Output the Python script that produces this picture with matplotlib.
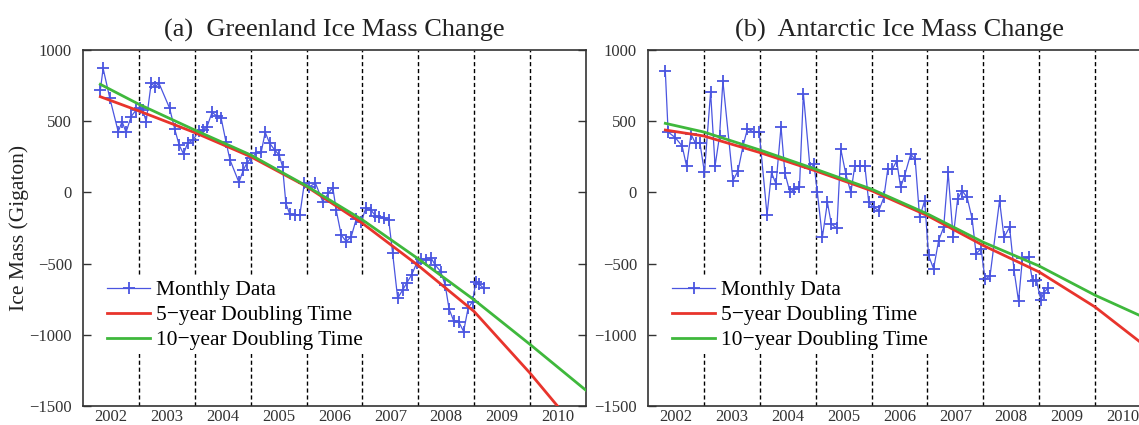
import matplotlib
matplotlib.use("Agg")
import matplotlib.pyplot as plt

# ---------------- data ----------------
years_labels = ["2002", "2003", "2004", "2005", "2006", "2007", "2008", "2009", "2010"]
label_pos = [2002.5, 2003.5, 2004.5, 2005.5, 2006.5, 2007.5, 2008.5, 2009.5, 2010.5]
year_bounds = [2003, 2004, 2005, 2006, 2007, 2008, 2009, 2010]
yticks = [-1500, -1000, -500, 0, 500, 1000]

# Greenland monthly data
gr_t = [2002.31, 2002.36, 2002.48, 2002.63, 2002.70, 2002.77, 2002.86, 2002.95, 2003.02, 2003.07,
        2003.13, 2003.22, 2003.29, 2003.36, 2003.55, 2003.64, 2003.72, 2003.80, 2003.87, 2003.97,
        2004.07, 2004.15, 2004.22, 2004.31, 2004.39, 2004.47, 2004.56, 2004.63, 2004.79, 2004.87,
        2004.93, 2005.01, 2005.10, 2005.19, 2005.26, 2005.34, 2005.43, 2005.51, 2005.57, 2005.63,
        2005.70, 2005.79, 2005.88, 2005.96, 2006.05, 2006.16, 2006.29, 2006.39, 2006.47, 2006.53,
        2006.62, 2006.71, 2006.80, 2006.89, 2006.98, 2007.06, 2007.15, 2007.23, 2007.30, 2007.39,
        2007.47, 2007.54, 2007.63, 2007.72, 2007.79, 2007.88, 2007.97, 2008.05, 2008.13, 2008.23,
        2008.30, 2008.40, 2008.48, 2008.55, 2008.63, 2008.72, 2008.81, 2008.89, 2008.97, 2009.03,
        2009.09, 2009.17]
gr_m = [719, 871, 661, 427, 497, 422, 532, 579, 595, 579,
        497, 766, 743, 766, 591, 446, 333, 270, 345, 368,
        431, 438, 462, 563, 537, 525, 352, 228, 71, 158,
        205, 244, 275, 286, 422, 345, 298, 263, 181, -76,
        -154, -158, -158, 64, 41, 64, -65, -6, 34, -123,
        -299, -345, -310, -186, -205, -111, -123, -163, -175, -182,
        -193, -427, -743, -685, -638, -579, -498, -467, -474, -462,
        -509, -556, -650, -818, -900, -907, -977, -813, -767, -626,
        -645, -673]

# Greenland fitted curves
gr_fit_t = [2002.31, 2003.0, 2004.0, 2005.0, 2006.0, 2007.0, 2008.0, 2009.0, 2010.0, 2011.0]
gr_fit5 = [672, 572, 420, 251, 41, -217, -514, -837, -1270, -1740]
gr_fit10 = [759, 619, 438, 263, 45, -193, -467, -755, -1068, -1390]

# Antarctic monthly data
an_t = [2002.31, 2002.36, 2002.49, 2002.61, 2002.69, 2002.77, 2002.85, 2002.93, 2003.01, 2003.12,
        2003.20, 2003.28, 2003.34, 2003.52, 2003.61, 2003.70, 2003.78, 2003.89, 2003.99, 2004.13,
        2004.21, 2004.29, 2004.38, 2004.45, 2004.54, 2004.62, 2004.71, 2004.78, 2004.90, 2004.97,
        2005.03, 2005.12, 2005.21, 2005.28, 2005.38, 2005.45, 2005.54, 2005.63, 2005.70, 2005.79,
        2005.88, 2005.95, 2006.04, 2006.13, 2006.22, 2006.29, 2006.37, 2006.45, 2006.52, 2006.59,
        2006.70, 2006.78, 2006.86, 2006.95, 2007.02, 2007.11, 2007.20, 2007.29, 2007.37, 2007.46,
        2007.54, 2007.62, 2007.71, 2007.80, 2007.87, 2007.96, 2008.03, 2008.12, 2008.29, 2008.37,
        2008.47, 2008.55, 2008.63, 2008.70, 2008.81, 2008.88, 2008.95, 2009.03, 2009.08, 2009.16]
an_m = [850, 424, 384, 326, 186, 408, 345, 345, 140, 704,
        186, 396, 781, 82, 151, 326, 447, 424, 424, -158,
        140, 58, 461, 135, 0, 23, 35, 694, 168, 198,
        0, -315, -70, -221, -252, 303, 128, 0, 186, 186,
        186, -70, -105, -128, -35, 163, 163, 221, 35, 116,
        268, 233, -175, -58, -443, -536, -338, -245, 140, -315,
        -47, 12, -35, -186, -431, -396, -610, -587, -58, -315,
        -245, -548, -764, -461, -454, -624, -617, -757, -704, -671]

# Antarctic fitted curves
an_fit_t = [2002.31, 2003.0, 2004.0, 2005.0, 2006.0, 2007.0, 2008.0, 2009.0, 2010.0, 2011.0]
an_fit5 = [438, 396, 280, 151, 12, -163, -373, -559, -805, -1110]
an_fit10 = [485, 424, 298, 163, 23, -151, -350, -517, -722, -900]

titles = ["(a)  Greenland Ice Mass Change", "(b)  Antarctic Ice Mass Change"]
legend_labels = ["Monthly Data", "5\u2212year Doubling Time", "10\u2212year Doubling Time"]
ylabel = "Ice Mass (Gigaton)"

# ---------------- style ----------------
SERIF = ["Liberation Serif", "DejaVu Serif"]
plt.rcParams["font.family"] = SERIF

BLUE = "#4a55e0"
RED = "#e8342c"
GREEN = "#3fb83c"
W, H = 1139, 425
fig = plt.figure(figsize=(W / 100, H / 100), dpi=100)

panels = [
    (83, gr_t, gr_m, gr_fit_t, gr_fit5, gr_fit10, titles[0]),
    (648, an_t, an_m, an_fit_t, an_fit5, an_fit10, titles[1]),
]
for i, (left_px, t, m, ft, f5, f10, title) in enumerate(panels):
    ax = fig.add_axes([left_px / W, (H - 406) / H, 503 / W, 356 / H])
    ax.set_xlim(2002, 2011)
    ax.set_ylim(-1500, 1000)
    for yb in year_bounds:
        ax.axvline(yb, color="black", lw=1.0, ls=(0, (3.0, 2.0)), zorder=1)
    l1, = ax.plot(t, m, color=BLUE, lw=0.9, marker="+", ms=9, mew=1.3, zorder=3)
    l2, = ax.plot(ft, f5, color=RED, lw=2.0, zorder=4)
    l3, = ax.plot(ft, f10, color=GREEN, lw=2.0, zorder=5)
    ax.set_xticks(label_pos)
    ax.set_xticklabels(years_labels)
    ax.set_yticks(yticks)
    ax.set_yticklabels([str(v).replace("-", "\u2212") for v in yticks])
    ax.tick_params(axis="x", length=0, pad=2, labelsize=12, colors="#333333")
    ax.tick_params(axis="y", direction="in", length=6, width=1.0, pad=8,
                   labelsize=12, right=True, colors="#333333")
    for sp in ax.spines.values():
        sp.set_linewidth(1.2)
        sp.set_color("#333333")
    ax.set_title(title, fontsize=19, pad=10, color="#222222")
    if i == 0:
        ax.set_ylabel(ylabel, fontsize=15.5, color="#222222")
        ax.yaxis.set_label_coords(-0.108, 0.5)
    leg = ax.legend([l1, l2, l3], legend_labels, loc="lower left",
                    bbox_to_anchor=(0.04, 0.145), fontsize=15.5,
                    frameon=True, fancybox=False, framealpha=1.0,
                    handlelength=2.0, handletextpad=0.25, labelspacing=0.22,
                    borderpad=0.2, borderaxespad=0.0)
    leg.get_frame().set_edgecolor("none")
    leg.get_frame().set_facecolor("white")
    leg.set_zorder(10)

fig.savefig("out.png", dpi=100)
